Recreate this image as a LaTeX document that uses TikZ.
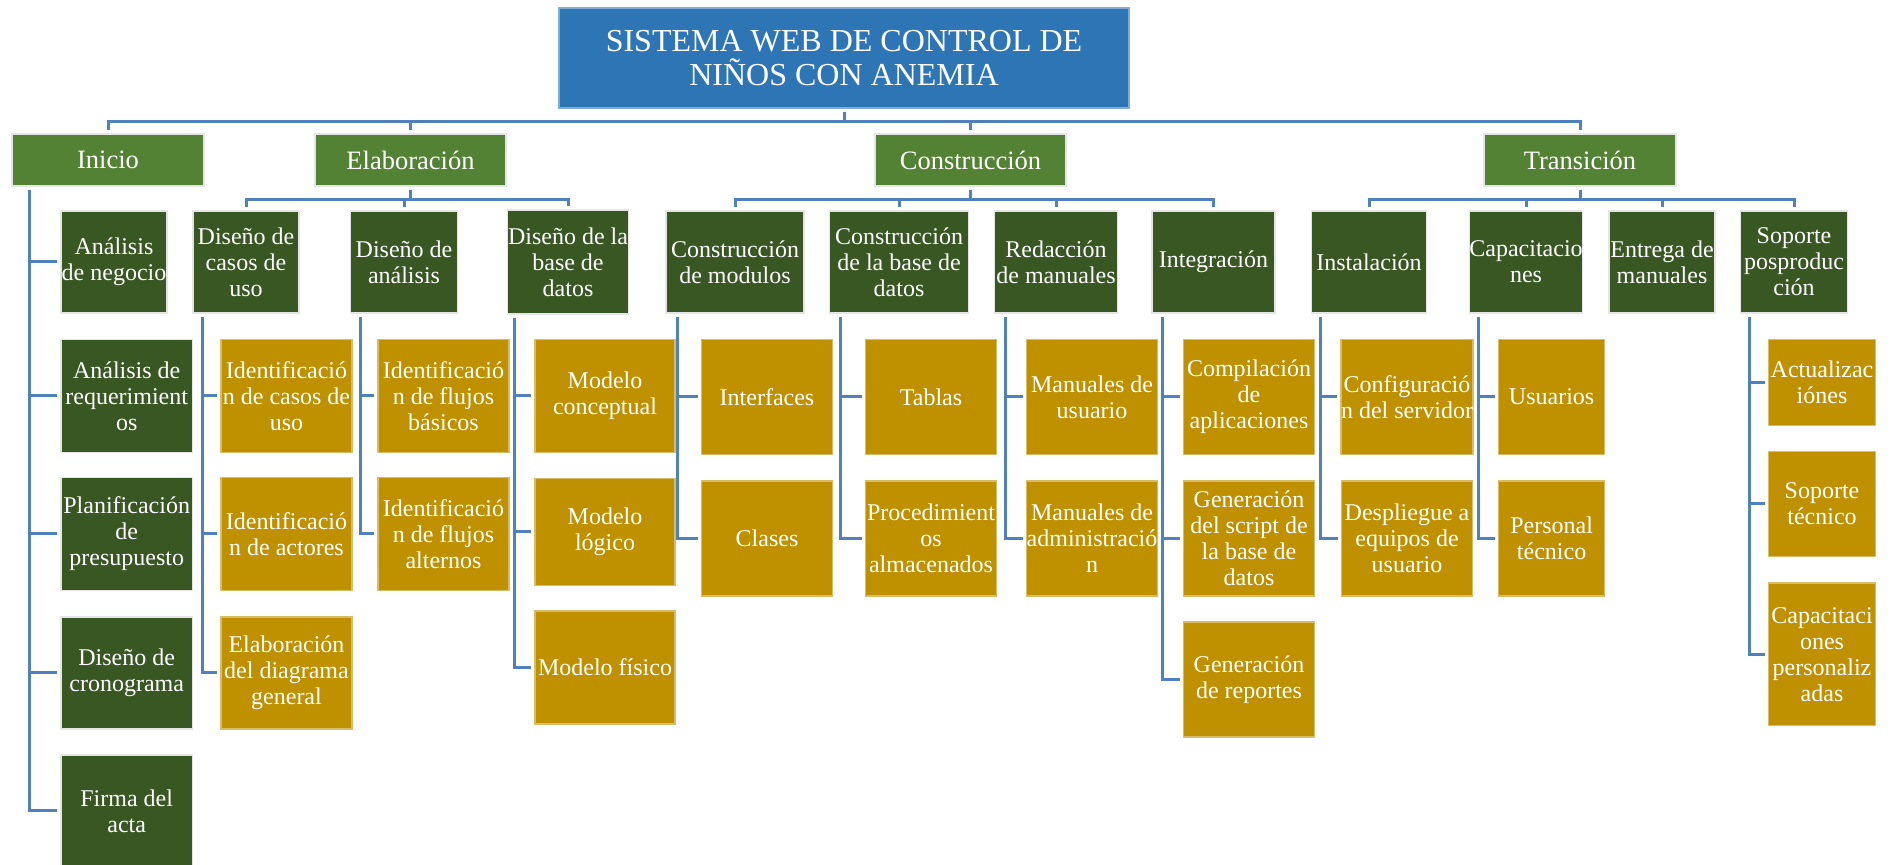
\documentclass[tikz,border=0pt]{standalone}
\usepackage{fontspec}
\setmainfont{Liberation Serif}

\definecolor{azul}{RGB}{46,117,182}
\definecolor{verde}{RGB}{84,130,53}
\definecolor{verdeosc}{RGB}{56,87,35}
\definecolor{oro}{RGB}{191,144,0}
\definecolor{linea}{RGB}{79,129,189}

\begin{document}
\begin{tikzpicture}[x=0.5pt, y=-0.5pt,
    wh/.style 2 args={minimum width=#1*0.5pt, minimum height=#2*0.5pt},
    caja/.style={draw=white!80!gray, line width=0.6pt, text=white, inner sep=0pt, align=center},
    raiz/.style={caja, fill=azul, draw=azul!60!white, font=\fontsize{16}{17}\selectfont},
    fase/.style={caja, fill=verde, font=\fontsize{13.25}{15}\selectfont},
    tarea/.style={caja, fill=verdeosc, font=\fontsize{12}{13}\selectfont},
    subtarea/.style={caja, fill=oro, draw=oro!60!white, font=\fontsize{12}{13}\selectfont},
    link/.style={draw=linea, line width=1.5pt, shorten <=1.5pt, shorten >=1.5pt}]
        \useasboundingbox (0,0) rectangle (1892,865);

        % Nodes
        \node (S) at (844,58) [raiz, wh={570}{100}] {SISTEMA WEB DE CONTROL DE\\NIÑOS CON ANEMIA};

        \node (I) at (108,160) [fase, wh={192}{52}] {Inicio};
        \node (E) at (410.5,160) [fase, wh={191}{52}] {Elaboración};
        \node (C) at (970.5,160) [fase, wh={191}{52}] {Construcción};
        \node (T) at (1580,160) [fase, wh={192}{52}] {Transición};

        \node (I1) at (114,262) [tarea, wh={106}{102}] {Análisis\\de negocio};
        \node (I2) at (126.7,396) [tarea, wh={131.5}{113}] {Análisis de\\requerimient\\os};
        \node (I3) at (126.7,534) [tarea, wh={131.5}{112.5}] {Planificación\\de\\presupuesto};
        \node (I4) at (126.7,673) [tarea, wh={131.5}{112}] {Diseño de\\cronograma};
        \node (I5) at (126.7,811) [tarea, wh={131.5}{112}] {Firma del\\acta};

        \node (E1) at (246,262) [tarea, wh={106}{102}] {Diseño de\\casos de\\uso};
        \node (E2) at (404,262) [tarea, wh={106.5}{102}] {Diseño de\\análisis};
        \node (E3) at (568,262) [tarea, wh={120.5}{104}] {Diseño de la\\base de\\datos};
        \node (E11) at (286.5,396) [subtarea, wh={131}{113}] {Identificació\\n de casos de\\uso};
        \node (E12) at (286.5,534) [subtarea, wh={131}{112.5}] {Identificació\\n de actores};
        \node (E13) at (286.5,673) [subtarea, wh={131}{112}] {Elaboración\\del diagrama\\general};
        \node (E21) at (443.5,396) [subtarea, wh={131}{113}] {Identificació\\n de flujos\\básicos};
        \node (E22) at (443.5,534) [subtarea, wh={131}{112.5}] {Identificació\\n de flujos\\alternos};
        \node (E31) at (605,396) [subtarea, wh={140}{113}] {Modelo\\conceptual};
        \node (E32) at (605,531.7) [subtarea, wh={140}{107}] {Modelo\\lógico};
        \node (E33) at (605,667.5) [subtarea, wh={140}{113}] {Modelo físico};

        \node (C1) at (735,262) [tarea, wh={138}{102}] {Construcción\\de modulos};
        \node (C2) at (899,262) [tarea, wh={139.5}{102}] {Construcción\\de la base de\\datos};
        \node (C3) at (1056,262) [tarea, wh={122.5}{102}] {Redacción\\de manuales};
        \node (C4) at (1213.5,262) [tarea, wh={123}{102}] {Integración};
        \node (C11) at (767,397) [subtarea, wh={131.5}{115.5}] {Interfaces};
        \node (C12) at (767,538.5) [subtarea, wh={131.5}{115}] {Clases};
        \node (C21) at (931,397) [subtarea, wh={131.5}{115.5}] {Tablas};
        \node (C22) at (931,538.5) [subtarea, wh={131.5}{115}] {Procedimient\\os\\almacenados};
        \node (C31) at (1092,397) [subtarea, wh={131.5}{115.5}] {Manuales de\\usuario};
        \node (C32) at (1092,538.5) [subtarea, wh={131.5}{115}] {Manuales de\\administració\\n};
        \node (C41) at (1249,397) [subtarea, wh={131.5}{115.5}] {Compilación\\de\\aplicaciones};
        \node (C42) at (1249,538.5) [subtarea, wh={131.5}{115}] {Generación\\del script de\\la base de\\datos};
        \node (C43) at (1249,679.5) [subtarea, wh={131.5}{115}] {Generación\\de reportes};

        \node (T1) at (1369,262) [tarea, wh={115.5}{102}] {Instalación};
        \node (T2) at (1526,262) [tarea, wh={113.5}{102}] {Capacitacio\\nes};
        \node (T3) at (1662,262) [tarea, wh={106}{102}] {Entrega de\\manuales};
        \node (T4) at (1794,262) [tarea, wh={106.5}{102}] {Soporte\\posproduc\\ción};
        \node (T11) at (1407,397) [subtarea, wh={131.5}{115.5}] {Configuració\\n del servidor};
        \node (T12) at (1407,538.5) [subtarea, wh={131.5}{115}] {Despliegue a\\equipos de\\usuario};
        \node (T21) at (1551.6,397) [subtarea, wh={106}{115.5}] {Usuarios};
        \node (T22) at (1551.6,538.5) [subtarea, wh={106}{115}] {Personal\\técnico};
        \node (T41) at (1822,382.7) [subtarea, wh={106.5}{86}] {Actualizac\\iónes};
        \node (T42) at (1822,504) [subtarea, wh={106.5}{105}] {Soporte\\técnico};
        \node (T43) at (1822,654.3) [subtarea, wh={106.5}{142.6}] {Capacitaci\\ones\\personaliz\\adas};

        % Edges
        \draw[link] (S.south) -- ++(0,13) -| (I.north);
        \draw[link] (S.south) -- ++(0,13) -| (E.north);
        \draw[link] (S.south) -- ++(0,13) -| (C.north);
        \draw[link] (S.south) -- ++(0,13) -| (T.north);

        \draw[link] ([xshift=9pt]I.south west) |- (I1.west);
        \draw[link] ([xshift=9pt]I.south west) |- (I2.west);
        \draw[link] ([xshift=9pt]I.south west) |- (I3.west);
        \draw[link] ([xshift=9pt]I.south west) |- (I4.west);
        \draw[link] ([xshift=9pt]I.south west) |- (I5.west);

        \draw[link] (E.south) -- ++(0,13) -| (E1.north);
        \draw[link] (E.south) -- ++(0,13) -| (E2.north);
        \draw[link] (E.south) -- ++(0,13) -| (E3.north);
        \draw[link] ([xshift=5pt]E1.south west) |- (E11.west);
        \draw[link] ([xshift=5pt]E1.south west) |- (E12.west);
        \draw[link] ([xshift=5pt]E1.south west) |- (E13.west);
        \draw[link] ([xshift=5pt]E2.south west) |- (E21.west);
        \draw[link] ([xshift=5pt]E2.south west) |- (E22.west);
        \draw[link] ([xshift=3.5pt]E3.south west) |- (E31.west);
        \draw[link] ([xshift=3.5pt]E3.south west) |- (E32.west);
        \draw[link] ([xshift=3.5pt]E3.south west) |- (E33.west);

        \draw[link] (C.south) -- ++(0,13) -| (C1.north);
        \draw[link] (C.south) -- ++(0,13) -| (C2.north);
        \draw[link] (C.south) -- ++(0,13) -| (C3.north);
        \draw[link] (C.south) -- ++(0,13) -| (C4.north);
        \draw[link] ([xshift=6pt]C1.south west) |- (C11.west);
        \draw[link] ([xshift=6pt]C1.south west) |- (C12.west);
        \draw[link] ([xshift=6pt]C2.south west) |- (C21.west);
        \draw[link] ([xshift=6pt]C2.south west) |- (C22.west);
        \draw[link] ([xshift=5.5pt]C3.south west) |- (C31.west);
        \draw[link] ([xshift=5.5pt]C3.south west) |- (C32.west);
        \draw[link] ([xshift=5.5pt]C4.south west) |- (C41.west);
        \draw[link] ([xshift=5.5pt]C4.south west) |- (C42.west);
        \draw[link] ([xshift=5.5pt]C4.south west) |- (C43.west);

        \draw[link] (T.south) -- ++(0,13) -| (T1.north);
        \draw[link] (T.south) -- ++(0,13) -| (T2.north);
        \draw[link] (T.south) -- ++(0,13) -| (T3.north);
        \draw[link] (T.south) -- ++(0,13) -| (T4.north);
        \draw[link] ([xshift=5pt]T1.south west) |- (T11.west);
        \draw[link] ([xshift=5pt]T1.south west) |- (T12.west);
        \draw[link] ([xshift=5pt]T2.south west) |- (T21.west);
        \draw[link] ([xshift=5pt]T2.south west) |- (T22.west);
        \draw[link] ([xshift=4.5pt]T4.south west) |- (T41.west);
        \draw[link] ([xshift=4.5pt]T4.south west) |- (T42.west);
        \draw[link] ([xshift=4.5pt]T4.south west) |- (T43.west);
    \end{tikzpicture}
\end{document}
